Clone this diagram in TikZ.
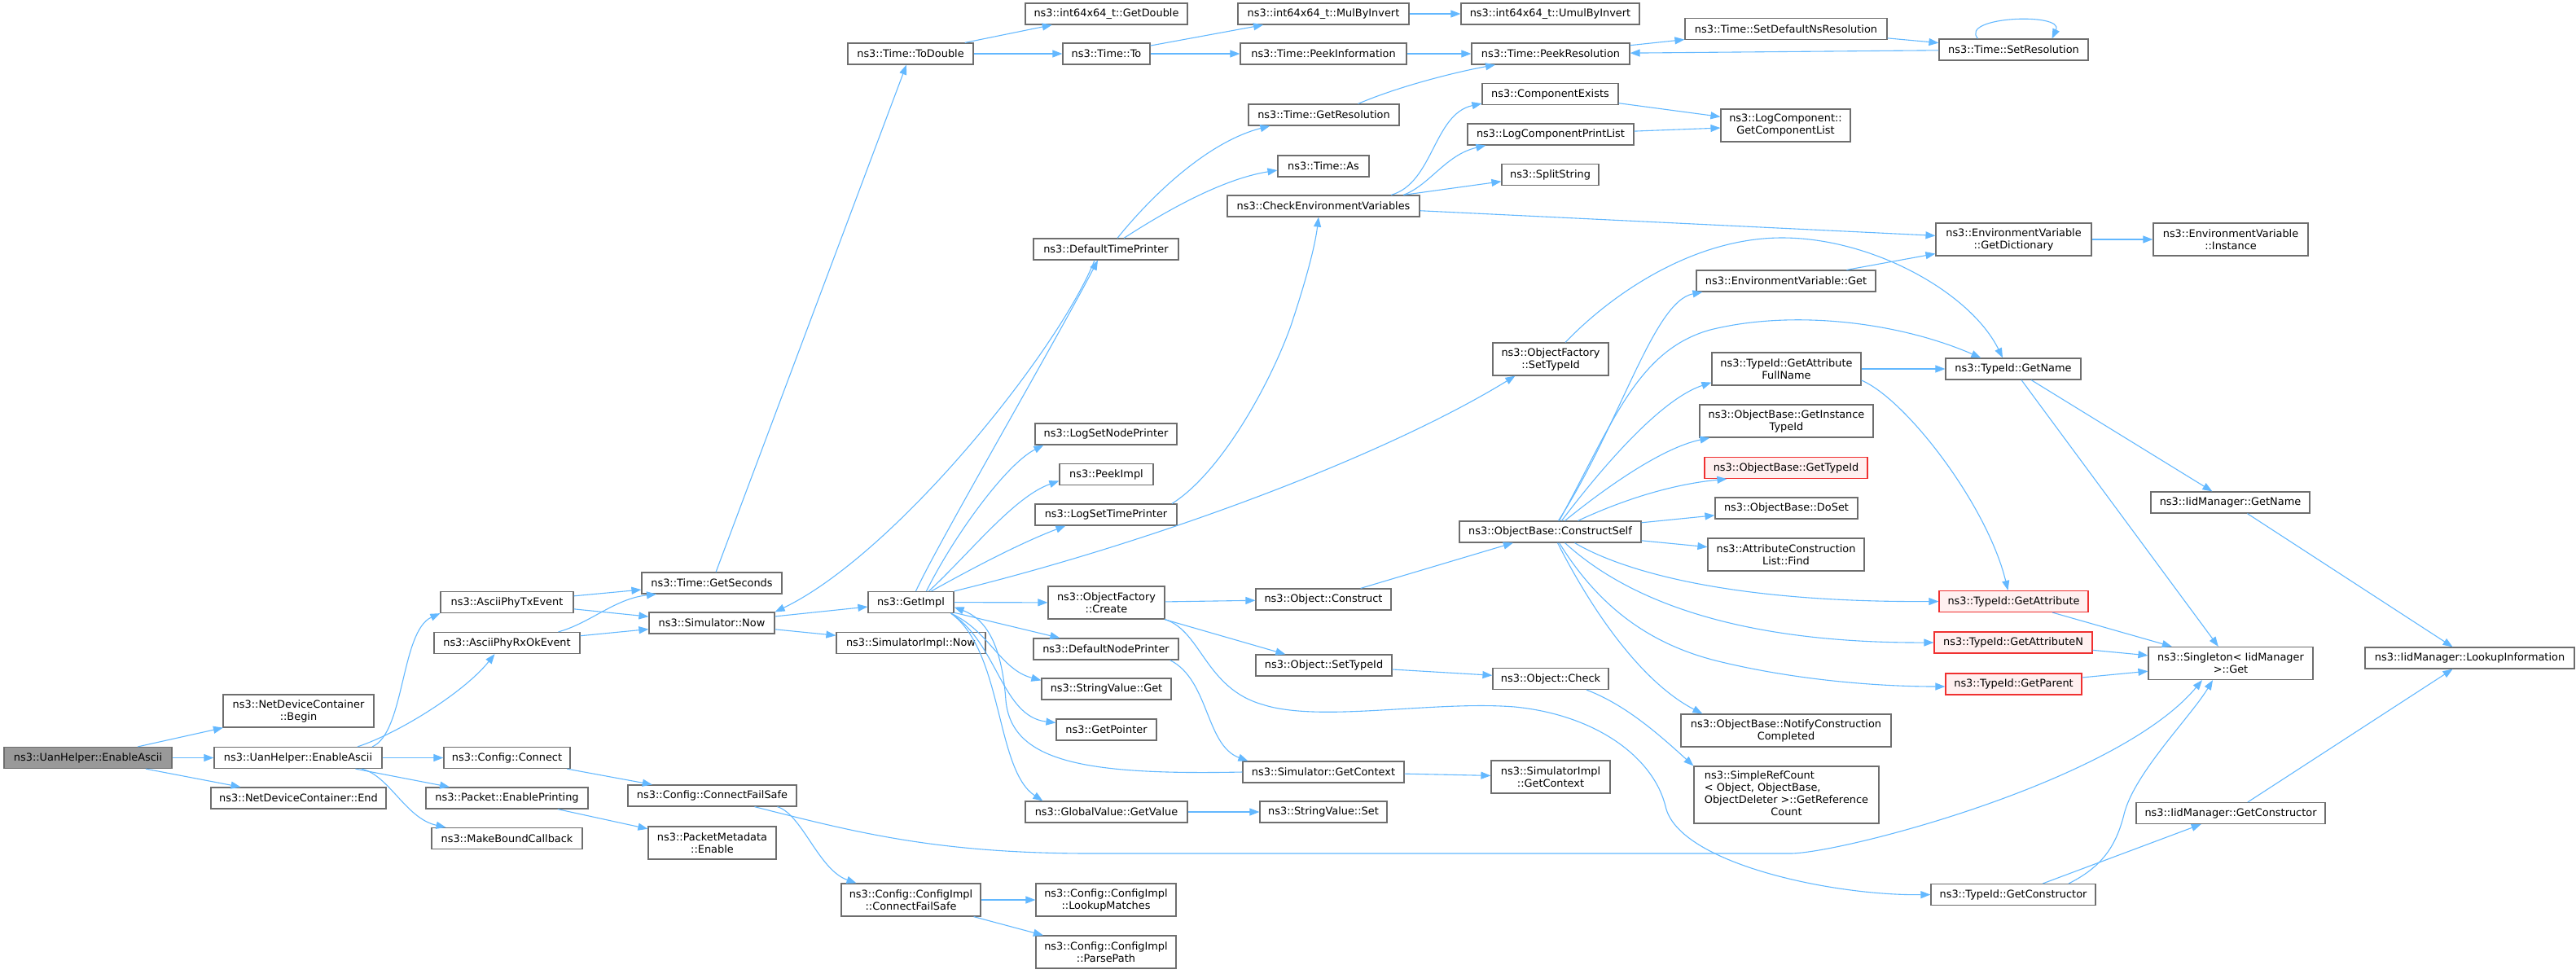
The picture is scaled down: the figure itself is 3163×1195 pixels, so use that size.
\documentclass[tikz,border=0pt]{standalone}
\usepackage{fontspec}
\setmainfont{DejaVu Sans}
\usetikzlibrary{arrows.meta}
\definecolor{edgeblue}{HTML}{63B8FF}
\definecolor{boxgray}{HTML}{6E6E6E}
\definecolor{rootgray}{HTML}{999999}
\definecolor{redborder}{HTML}{F03030}
\definecolor{redfill}{HTML}{FFF0F0}
\tikzset{
  box/.style={draw=boxgray, line width=1.2pt, fill=white, inner sep=0pt, align=center,
    font=\fontsize{12.9}{15}\selectfont, minimum height=26pt},
  two/.style={minimum height=40pt},
  rootbox/.style={fill=rootgray},
  redbox/.style={draw=redborder, fill=redfill},
  edgeline/.style={draw=edgeblue, line width=1.1pt, -{Triangle[length=12pt,width=9pt]}}
}
\begin{document}
\begin{tikzpicture}[x=1pt,y=-1pt]
\useasboundingbox (0,0) rectangle (3163,1195);
% column 1
\node[box,rootbox,minimum width=206pt] (root) at (108,930.5) {ns3::UanHelper::EnableAscii};
% column 2
\node[box,two,minimum width=185pt] (ndcBegin) at (366.5,873) {ns3::NetDeviceContainer\\::Begin};
\node[box,minimum width=206pt] (uan2) at (366,930.5) {ns3::UanHelper::EnableAscii};
\node[box,minimum width=215pt] (ndcEnd) at (366.5,980) {ns3::NetDeviceContainer::End};
% column 3
\node[box,minimum width=163pt] (txEv) at (622.5,739.5) {ns3::AsciiPhyTxEvent};
\node[box,minimum width=179pt] (rxEv) at (622.5,789.5) {ns3::AsciiPhyRxOkEvent};
\node[box,minimum width=155pt] (cfgConnect) at (622.5,930.5) {ns3::Config::Connect};
\node[box,minimum width=199pt] (enPrint) at (622.5,980) {ns3::Packet::EnablePrinting};
\node[box,minimum width=185pt] (makeBound) at (622.5,1029.5) {ns3::MakeBoundCallback};
% column 4
\node[box,minimum width=172pt] (getSeconds) at (874,716) {ns3::Time::GetSeconds};
\node[box,minimum width=154pt] (simNow) at (874,765) {ns3::Simulator::Now};
\node[box,minimum width=207pt] (cfgFailSafe) at (874.5,977) {ns3::Config::ConnectFailSafe};
\node[box,two,minimum width=157pt] (pktMeta) at (874.5,1035) {ns3::PacketMetadata\\::Enable};
% column 5
\node[box,minimum width=154pt] (toDouble) at (1118,66) {ns3::Time::ToDouble};
\node[box,minimum width=105pt] (getImpl) at (1118.5,739.5) {ns3::GetImpl};
\node[box,minimum width=183pt] (simImplNow) at (1118.5,789.5) {ns3::SimulatorImpl::Now};
\node[box,two,minimum width=171pt] (cfgImplFS) at (1118.5,1105) {ns3::Config::ConfigImpl\\::ConnectFailSafe};
% column 6
\node[box,minimum width=199pt] (getDouble) at (1358.5,17) {ns3::int64x64\_t::GetDouble};
\node[box,minimum width=107pt] (timeTo) at (1358.5,66) {ns3::Time::To};
\node[box,minimum width=178pt] (defTimePrinter) at (1358,306) {ns3::DefaultTimePrinter};
\node[box,minimum width=174pt] (logSetNodePrinter) at (1358,533) {ns3::LogSetNodePrinter};
\node[box,minimum width=115pt] (peekImpl) at (1358.5,582.5) {ns3::PeekImpl};
\node[box,minimum width=174pt] (logSetTimePrinter) at (1358,632) {ns3::LogSetTimePrinter};
\node[box,two,minimum width=143pt] (ofCreate) at (1358.5,740) {ns3::ObjectFactory\\::Create};
\node[box,minimum width=178pt] (defNodePrinter) at (1358,797) {ns3::DefaultNodePrinter};
\node[box,minimum width=159pt] (strGet) at (1358.5,846) {ns3::StringValue::Get};
\node[box,minimum width=123pt] (getPointer) at (1358.5,896) {ns3::GetPointer};
\node[box,minimum width=199pt] (gvGetValue) at (1358.5,997) {ns3::GlobalValue::GetValue};
\node[box,two,minimum width=172pt] (lookupMatches) at (1358,1105) {ns3::Config::ConfigImpl\\::LookupMatches};
\node[box,two,minimum width=172pt] (parsePath) at (1358,1169) {ns3::Config::ConfigImpl\\::ParsePath};
% column 7
\node[box,minimum width=210pt] (mulByInvert) at (1625,17) {ns3::int64x64\_t::MulByInvert};
\node[box,minimum width=204pt] (peekInfo) at (1625,66) {ns3::Time::PeekInformation};
\node[box,minimum width=185pt] (getResolution) at (1625.5,141) {ns3::Time::GetResolution};
\node[box,minimum width=112pt] (timeAs) at (1625,204) {ns3::Time::As};
\node[box,minimum width=236pt] (checkEnv) at (1625,253) {ns3::CheckEnvironmentVariables};
\node[box,minimum width=166pt] (objConstruct) at (1625,736) {ns3::Object::Construct};
\node[box,minimum width=167pt] (objSetTypeId) at (1625.5,817) {ns3::Object::SetTypeId};
\node[box,minimum width=198pt] (simGetContext) at (1625,948) {ns3::Simulator::GetContext};
\node[box,minimum width=156pt] (strSet) at (1625,997) {ns3::StringValue::Set};
% column 8
\node[box,minimum width=219pt] (umulByInvert) at (1903.5,17) {ns3::int64x64\_t::UmulByInvert};
\node[box,minimum width=194pt] (peekRes) at (1904,66) {ns3::Time::PeekResolution};
\node[box,minimum width=167pt] (compExists) at (1903.5,115.5) {ns3::ComponentExists};
\node[box,minimum width=204pt] (logCompPrintList) at (1904,165) {ns3::LogComponentPrintList};
\node[box,minimum width=119pt] (splitString) at (1903.5,214.5) {ns3::SplitString};
\node[box,two,minimum width=142pt] (ofSetTypeId) at (1904,441) {ns3::ObjectFactory\\::SetTypeId};
\node[box,minimum width=223pt] (constructSelf) at (1903.5,653) {ns3::ObjectBase::ConstructSelf};
\node[box,minimum width=142pt] (objCheck) at (1904,833.5) {ns3::Object::Check};
\node[box,two,minimum width=146pt] (simImplGetContext) at (1904,954) {ns3::SimulatorImpl\\::GetContext};
% column 9
\node[box,minimum width=248pt] (setDefaultNsRes) at (2193,35.5) {ns3::Time::SetDefaultNsResolution};
\node[box,two,minimum width=159pt] (getCompList) at (2192.5,154) {ns3::LogComponent::\\GetComponentList};
\node[box,minimum width=220pt] (envVarGet) at (2193,345) {ns3::EnvironmentVariable::Get};
\node[box,two,minimum width=183pt] (getAttrFullName) at (2193.5,453) {ns3::TypeId::GetAttribute\\FullName};
\node[box,two,minimum width=213pt] (getInstTypeId) at (2193.5,517) {ns3::ObjectBase::GetInstance\\TypeId};
\node[box,redbox,minimum width=200pt] (obGetTypeId) at (2193,574.5) {ns3::ObjectBase::GetTypeId};
\node[box,minimum width=175pt] (doSet) at (2193.5,624) {ns3::ObjectBase::DoSet};
\node[box,two,minimum width=192pt] (attrConsFind) at (2193,681) {ns3::AttributeConstruction\\List::Find};
\node[box,two,minimum width=258pt] (notifyConstr) at (2193,897) {ns3::ObjectBase::NotifyConstruction\\Completed};
\node[box,minimum width=227pt,minimum height=70pt] (simpleRefCount) at (2193.5,976) {\begin{tabular}{@{}l@{}}ns3::SimpleRefCount\\< Object, ObjectBase,\\ ObjectDeleter >::GetReference\\\multicolumn{1}{@{}c@{}}{Count}\end{tabular}};
% column 10
\node[box,minimum width=183pt] (setResolution) at (2472.5,61) {ns3::Time::SetResolution};
\node[box,two,minimum width=191pt] (getDictionary) at (2472.5,294) {ns3::EnvironmentVariable\\::GetDictionary};
\node[box,minimum width=166pt] (tidGetName) at (2472,453) {ns3::TypeId::GetName};
\node[box,redbox,minimum width=183pt] (tidGetAttribute) at (2472.5,738.5) {ns3::TypeId::GetAttribute};
\node[box,redbox,minimum width=194pt] (tidGetAttributeN) at (2472,789) {ns3::TypeId::GetAttributeN};
\node[box,redbox,minimum width=167pt] (tidGetParent) at (2472.5,840) {ns3::TypeId::GetParent};
\node[box,minimum width=202pt] (tidGetConstructor) at (2472,1098.5) {ns3::TypeId::GetConstructor};
% column 11
\node[box,two,minimum width=190pt] (envInstance) at (2739,294) {ns3::EnvironmentVariable\\::Instance};
\node[box,minimum width=195pt] (iidGetName) at (2738.5,617) {ns3::IidManager::GetName};
\node[box,two,minimum width=202pt] (singletonGet) at (2739,814.5) {ns3::Singleton< IidManager\\>::Get};
\node[box,minimum width=232pt] (iidGetConstructor) at (2739,998.5) {ns3::IidManager::GetConstructor};
% column 12
\node[box,minimum width=257pt] (lookupInfo) at (3032.5,808) {ns3::IidManager::LookupInformation};

% ---------- straight edges ----------
\foreach \a/\b in {root/ndcBegin, root/uan2, root/ndcEnd, uan2/cfgConnect, uan2/enPrint,
  txEv/getSeconds, txEv/simNow, rxEv/simNow, cfgConnect/cfgFailSafe, enPrint/pktMeta,
  cfgImplFS/lookupMatches, cfgImplFS/parsePath, getSeconds/toDouble, simNow/getImpl,
  simNow/simImplNow, getImpl/ofCreate, getImpl/defNodePrinter, ofCreate/objConstruct,
  ofCreate/objSetTypeId, objConstruct/constructSelf, objSetTypeId/objCheck,
  simGetContext/simImplGetContext, gvGetValue/strSet, toDouble/getDouble, toDouble/timeTo,
  timeTo/mulByInvert, timeTo/peekInfo, mulByInvert/umulByInvert, peekInfo/peekRes,
  peekRes/setDefaultNsRes, setDefaultNsRes/setResolution, setResolution/peekRes,
  checkEnv/splitString, checkEnv/getDictionary, compExists/getCompList,
  logCompPrintList/getCompList, getDictionary/envInstance, envVarGet/getDictionary,
  constructSelf/doSet, constructSelf/attrConsFind, getAttrFullName/tidGetName,
  tidGetName/iidGetName, tidGetName/singletonGet, iidGetName/lookupInfo,
  tidGetAttribute/singletonGet, tidGetAttributeN/singletonGet, tidGetParent/singletonGet,
  tidGetConstructor/iidGetConstructor, iidGetConstructor/lookupInfo}
  \draw[edgeline] (\a) -- (\b);

% ---------- curved edges ----------
\draw[edgeline] ([xshift=91pt]uan2.north) .. controls (497,900) and (492,775) .. (txEv.south west);
\draw[edgeline] ([xshift=73pt]uan2.north) .. controls (490,900) and (570,850) .. ([xshift=-15pt]rxEv.south);
\draw[edgeline] ([xshift=78pt]uan2.south) .. controls (478,952) and (498,1005) .. ([xshift=-75pt]makeBound.north);
\draw[edgeline] ([xshift=63pt]rxEv.north) .. controls (725,765) and (755,735) .. ([xshift=-68pt]getSeconds.south);
\draw[edgeline] ([xshift=80pt]cfgFailSafe.south) .. controls (985,1000) and (1005,1068) .. ([xshift=-67pt]cfgImplFS.north);
\draw[edgeline] ([xshift=52pt]cfgFailSafe.south) .. controls (1050,1022) and (1150,1048) .. (1340,1048)
  -- (2198,1048) .. controls (2260,1048) and (2600,960) .. ([xshift=-35pt]singletonGet.south);
\draw[edgeline] ([xshift=-14pt]defTimePrinter.south) .. controls (1300,430) and (1100,680) .. (simNow.north east);
\draw[edgeline] ([xshift=6pt]getImpl.north) .. controls (1150,670) and (1290,430) .. ([xshift=-10pt]defTimePrinter.south);
\draw[edgeline] ([xshift=19pt]getImpl.north) .. controls (1170,660) and (1235,570) .. ([xshift=11pt]logSetNodePrinter.south west);
\draw[edgeline] ([xshift=22pt]getImpl.north) .. controls (1190,680) and (1245,610) .. ([yshift=-8pt]peekImpl.west);
\draw[edgeline] ([xshift=25pt]getImpl.north) .. controls (1190,700) and (1250,668) .. ([xshift=38pt]logSetTimePrinter.south west);
\draw[edgeline] (getImpl.north east) .. controls (1420,665) and (1700,560) .. ([xshift=28pt]ofSetTypeId.south west);
\draw[edgeline] ([xshift=-4pt]getImpl.south east) .. controls (1215,775) and (1228,822) .. ([yshift=-3pt]strGet.north west);
\draw[edgeline] ([xshift=-4pt]getImpl.south east) .. controls (1225,790) and (1230,880) .. ([yshift=-5pt]getPointer.north west);
\draw[edgeline] ([xshift=-4pt]getImpl.south east) .. controls (1232,800) and (1222,945) .. ([xshift=22pt]gvGetValue.north west);
\draw[edgeline] (simGetContext.west) .. controls (1330,952) and (1242,935) .. (1235,860)
  .. controls (1230,790) and (1210,760) .. ([yshift=-6pt]getImpl.east);
\draw[edgeline] ([xshift=-11pt]defNodePrinter.south east) .. controls (1485,835) and (1480,915) .. ([xshift=7pt]simGetContext.north west);
\draw[edgeline] (ofCreate.south east) .. controls (1475,775) and (1480,845) .. (1550,865)
  .. controls (1620,888) and (1760,860) .. (1860,868)
  .. controls (1960,878) and (2030,930) .. (2045,990)
  .. controls (2060,1060) and (2250,1100) .. (tidGetConstructor.west);
\draw[edgeline] ([xshift=44pt]objCheck.south) .. controls (1995,865) and (2035,900) .. (simpleRefCount.north west);
\draw[edgeline] ([xshift=14pt]defTimePrinter.north) .. controls (1410,245) and (1480,175) .. ([xshift=27pt]getResolution.south west);
\draw[edgeline] ([xshift=22pt]defTimePrinter.north) .. controls (1430,260) and (1500,220) .. ([yshift=-5pt]timeAs.west);
\draw[edgeline] ([xshift=42pt]getResolution.north) .. controls (1720,105) and (1790,88) .. ([xshift=-68pt]peekRes.south);
\draw[edgeline] ([xshift=-44pt]setResolution.north) .. controls (2405,20) and (2535,15) .. ([xshift=47pt]setResolution.north);
\draw[edgeline] ([xshift=83pt]checkEnv.north) .. controls (1760,225) and (1760,140) .. ([yshift=2pt]compExists.south west);
\draw[edgeline] ([xshift=98pt]checkEnv.north) .. controls (1755,228) and (1775,190) .. ([xshift=23pt]logCompPrintList.south west);
\draw[edgeline] ([xshift=81pt]logSetTimePrinter.north) .. controls (1500,580) and (1560,470) .. (1585,400)
  .. controls (1605,340) and (1615,300) .. ([xshift=-6pt]checkEnv.south);
\draw[edgeline] ([xshift=18pt]ofSetTypeId.north) .. controls (1980,360) and (2080,292) .. (2188,292)
  .. controls (2300,292) and (2420,360) .. ([xshift=-13pt]tidGetName.north);
\draw[edgeline] ([xshift=10pt]constructSelf.north) .. controls (1990,520) and (2030,370) .. ([xshift=8pt]envVarGet.south west);
\draw[edgeline] ([xshift=11pt]constructSelf.north) .. controls (1980,520) and (2010,430) .. (2100,405)
  .. controls (2200,380) and (2330,395) .. ([xshift=44pt]tidGetName.north west);
\draw[edgeline] ([xshift=14pt]constructSelf.north) .. controls (1970,570) and (2040,490) .. ([yshift=4pt]getAttrFullName.south west);
\draw[edgeline] ([xshift=18pt]constructSelf.north) .. controls (1970,600) and (2040,550) .. ([xshift=13pt]getInstTypeId.south west);
\draw[edgeline] ([xshift=34pt]constructSelf.north) .. controls (1990,615) and (2050,595) .. ([xshift=28pt]obGetTypeId.south west);
\draw[edgeline] ([xshift=30pt]constructSelf.south) .. controls (1990,700) and (2120,740) .. (tidGetAttribute.west);
\draw[edgeline] ([xshift=18pt]constructSelf.south) .. controls (1980,720) and (2100,790) .. (tidGetAttributeN.west);
\draw[edgeline] ([xshift=11pt]constructSelf.south) .. controls (1960,740) and (2020,790) .. (2110,812)
  .. controls (2200,834) and (2300,843) .. ([yshift=-3pt]tidGetParent.west);
\draw[edgeline] ([xshift=9pt]constructSelf.south) .. controls (1960,760) and (2020,840) .. ([xshift=27pt]notifyConstr.north west);
\draw[edgeline] ([yshift=-14pt]getAttrFullName.east) .. controls (2340,490) and (2440,620) .. ([xshift=-7pt]tidGetAttribute.north);
\draw[edgeline] ([xshift=68pt]tidGetConstructor.north) .. controls (2580,1065) and (2598,1040) .. (2608,1000)
  .. controls (2620,950) and (2690,880) .. ([xshift=-22pt]singletonGet.south);
\end{tikzpicture}
\end{document}
